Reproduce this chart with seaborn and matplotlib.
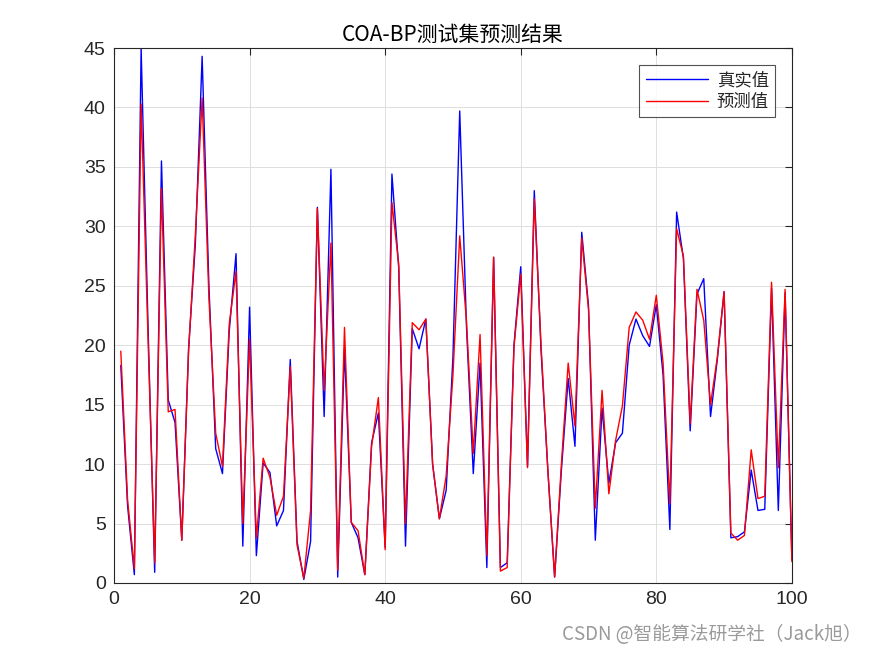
import matplotlib
matplotlib.use("Agg")
import matplotlib.pyplot as plt
import seaborn as sns
import pandas as pd
import numpy as np

sample_idx = list(range(1, 101))
true_vals = [18.3, 6.5, 0.7, 45.0, 22.0, 0.9, 35.5, 15.4, 13.5, 3.6,
             19.7, 28.5, 44.3, 25.0, 11.3, 9.2, 21.2, 27.7, 3.1, 23.2,
             2.3, 10.1, 9.3, 4.8, 6.1, 18.8, 3.5, 0.3, 3.5, 31.6,
             14.0, 34.8, 0.5, 19.7, 5.1, 3.8, 0.7, 11.8, 14.3, 3.0,
             34.4, 26.5, 3.1, 21.4, 19.7, 22.2, 10.0, 5.4, 7.8, 19.0,
             39.7, 21.5, 9.2, 18.5, 1.3, 27.4, 1.3, 1.7, 20.0, 26.6,
             9.8, 33.0, 19.5, 9.5, 0.5, 9.5, 17.2, 11.5, 29.5, 23.3,
             3.6, 14.7, 8.4, 11.8, 12.6, 20.0, 22.2, 20.8, 19.9, 23.4,
             17.5, 4.5, 31.2, 27.3, 12.8, 24.3, 25.6, 14.0, 18.8, 24.5,
             3.8, 3.9, 4.3, 9.5, 6.1, 6.2, 24.8, 6.1, 24.4, 2.0]
pred_vals = [19.5, 7.0, 1.2, 40.3, 21.0, 1.7, 33.2, 14.4, 14.6, 3.6,
             19.5, 29.3, 40.8, 24.0, 12.6, 9.8, 21.8, 26.2, 5.0, 20.5,
             3.8, 10.5, 8.9, 5.7, 7.3, 18.2, 3.2, 0.4, 6.1, 31.5,
             16.2, 28.6, 1.1, 21.5, 5.1, 4.4, 0.7, 11.5, 15.6, 2.8,
             32.0, 26.8, 5.0, 21.9, 21.3, 22.2, 10.0, 5.4, 9.0, 17.5,
             29.2, 22.0, 10.9, 20.9, 2.3, 27.4, 1.0, 1.3, 19.8, 26.0,
             9.7, 32.3, 20.0, 9.5, 0.5, 10.0, 18.5, 13.2, 29.0, 23.0,
             6.3, 16.2, 7.5, 12.0, 14.9, 21.5, 22.8, 22.1, 20.5, 24.2,
             18.5, 6.7, 29.8, 27.5, 13.4, 24.7, 22.1, 15.0, 19.0, 24.5,
             4.2, 3.6, 4.0, 11.2, 7.1, 7.3, 25.3, 9.7, 24.7, 1.8]
legend_labels = ["真实值", "预测值"]
title_text = "COA-BP测试集预测结果"
x_ticks = [0, 20, 40, 60, 80, 100]
y_ticks = [0, 5, 10, 15, 20, 25, 30, 35, 40, 45]

df = pd.DataFrame({
    "x": sample_idx * 2,
    "y": true_vals + pred_vals,
    "series": [legend_labels[0]] * len(true_vals) + [legend_labels[1]] * len(pred_vals),
})

sns.set_style("white")
plt.rcParams['font.family'] = ['Liberation Sans', 'Noto Sans CJK SC', 'DejaVu Sans']

fig = plt.figure(figsize=(8.75, 6.56), dpi=100)
ax = fig.add_axes([0.1303, 0.1113, 0.7747, 0.8155])

sns.lineplot(data=df, x="x", y="y", hue="series",
             palette={legend_labels[0]: "#0000ff", legend_labels[1]: "#ff0000"},
             linewidth=1.0, ax=ax, legend=True, estimator=None)

ax.set_xlim(0, 100)
ax.set_ylim(0, 45)
ax.set_xticks(x_ticks)
ax.set_yticks(y_ticks)
ax.set_xlabel("")
ax.set_ylabel("")
ax.grid(True, color="#dedede", linewidth=0.7)
ax.set_axisbelow(True)
ax.tick_params(direction="in", length=5, width=0.8, top=True, right=True,
               labelsize=14, colors="#262626", pad=6)
for s in ax.spines.values():
    s.set_color("#262626")
    s.set_linewidth(0.8)
ax.set_title(title_text, fontsize=15, family=['Noto Sans CJK SC', 'DejaVu Sans'],
             color="#000000", pad=5)

leg = ax.legend(loc="upper right", bbox_to_anchor=(0.975, 0.968), borderaxespad=0,
                prop={'family': ['Noto Sans CJK SC', 'DejaVu Sans'], 'size': 12.5},
                frameon=True, fancybox=False, edgecolor="#262626",
                handlelength=3.6, borderpad=0.35, labelspacing=0.2, handletextpad=0.5)
leg.get_frame().set_linewidth(0.8)
for line in leg.get_lines():
    line.set_linewidth(1.0)

fig.text(0.985, 0.017, "CSDN @智能算法研学社（Jack旭）", ha="right", va="bottom",
         fontsize=13.5, color="#9a9a9a", family=['Noto Sans CJK SC', 'DejaVu Sans'])

fig.savefig("out.png", dpi=100, facecolor="white")
